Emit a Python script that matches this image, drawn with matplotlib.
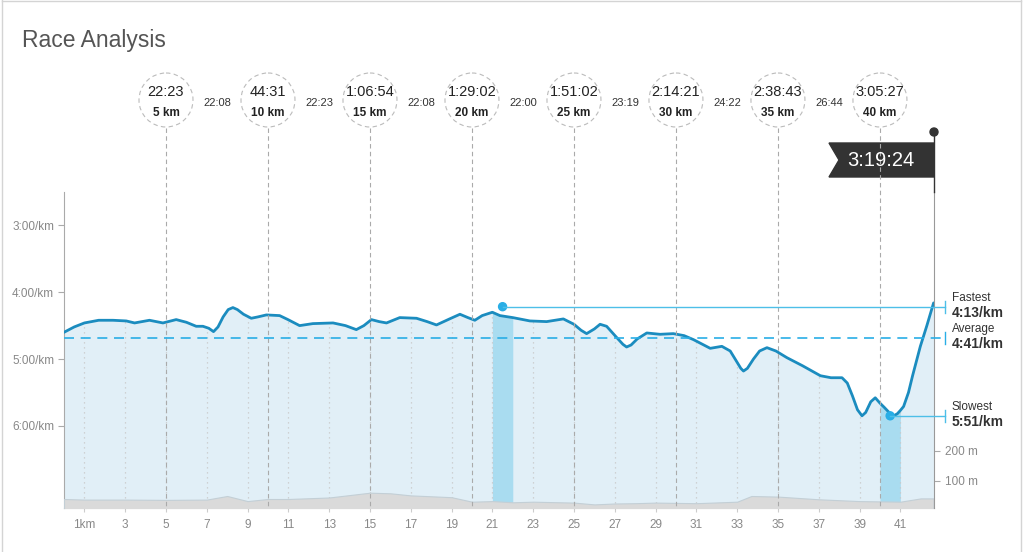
import numpy as np
import matplotlib
matplotlib.use('Agg')
import matplotlib.pyplot as plt
from matplotlib.patches import Circle, Polygon

plt.rcParams['font.family'] = ['Liberation Sans', 'DejaVu Sans']

W, H = 1024, 552

# pace profile (km, minutes per km)
km = [0.0, 0.5, 1.0, 1.7, 2.4, 3.05, 3.46, 4.19, 4.85, 5.5, 6.0, 6.48, 6.81, 7.1, 7.33, 7.55,
      7.8, 8.05, 8.28, 8.5, 8.8, 9.18, 9.5, 9.92, 10.57, 10.98, 11.55, 12.2, 13.19, 13.8, 14.33,
      14.7, 15.07, 15.45, 15.81, 16.46, 17.28, 17.8, 18.26, 18.9, 19.41, 19.8, 20.14, 20.5,
      21.0, 21.37, 22.0, 22.84, 23.66, 24.48, 25.0, 25.35, 25.62, 26.0, 26.28, 26.6, 27.1,
      27.4, 27.58, 27.8, 28.1, 28.57, 29.22, 29.87, 30.4, 30.86, 31.68, 32.25, 32.66, 33.0,
      33.18, 33.31, 33.5, 33.8, 34.1, 34.46, 34.9, 35.44, 36.2, 37.08, 37.6, 38.14, 38.4,
      38.65, 38.9, 39.12, 39.3, 39.55, 39.77, 40.0, 40.2, 40.45, 40.67, 40.85, 41.0, 41.16,
      41.4, 41.6, 41.98, 42.3, 42.63]
pace = [4.60, 4.52, 4.46, 4.42, 4.42, 4.43, 4.46, 4.42, 4.46, 4.41, 4.45, 4.51, 4.51, 4.54,
        4.59, 4.52, 4.37, 4.26, 4.23, 4.26, 4.33, 4.39, 4.37, 4.34, 4.35, 4.41, 4.50, 4.47,
        4.46, 4.50, 4.56, 4.50, 4.41, 4.44, 4.46, 4.38, 4.39, 4.44, 4.49, 4.40, 4.33, 4.38,
        4.42, 4.35, 4.30, 4.35, 4.38, 4.43, 4.44, 4.40, 4.48, 4.57, 4.62, 4.55, 4.48, 4.51,
        4.68, 4.78, 4.82, 4.79, 4.70, 4.61, 4.63, 4.62, 4.65, 4.71, 4.84, 4.81, 4.88, 5.05,
        5.14, 5.18, 5.14, 5.00, 4.88, 4.83, 4.88, 4.98, 5.10, 5.25, 5.28, 5.28, 5.36,
        5.55, 5.76, 5.85, 5.80, 5.64, 5.58, 5.66, 5.72, 5.80, 5.85, 5.82, 5.77, 5.71,
        5.50, 5.25, 4.81, 4.50, 4.16]

# elevation profile (km, metres)
elev_km = [0, 1, 3, 5, 7, 8, 9, 10, 11, 13, 15, 16, 17, 19, 20, 21, 22, 23, 25, 26, 27,
           28, 29, 31, 33, 33.7, 35, 37, 39, 41, 42, 42.63]
elev_m = [40, 38, 38, 37, 38, 50, 33, 40, 40, 45, 61, 59, 52, 46, 31, 33, 29, 31, 28, 22, 25,
          26, 28, 26, 31, 50, 48, 39, 33, 31, 42, 42]

split_km = [5, 10, 15, 20, 25, 30, 35, 40]
split_total = ['22:23', '44:31', '1:06:54', '1:29:02', '1:51:02', '2:14:21', '2:38:43', '3:05:27']
split_interval = ['22:08', '22:23', '22:08', '22:00', '23:19', '24:22', '26:44']
finish_time = '3:19:24'

fastest_km, fastest_pace, fastest_label = 21.5, 4 + 13 / 60, '4:13/km'
slowest_km, slowest_pace, slowest_label = 40.5, 5 + 51 / 60, '5:51/km'
avg_pace, avg_label = 4 + 41 / 60, '4:41/km'
fastest_span = (21, 22)
slowest_span = (40, 41)

pace_ticks = [3, 4, 5, 6]
pace_labels = ['3:00/km', '4:00/km', '5:00/km', '6:00/km']
km_ticks = list(range(1, 42, 2))
km_labels = ['1km'] + [str(k) for k in km_ticks[1:]]
elev_ticks = [100, 200]
elev_labels = ['100 m', '200 m']

km = np.array(km)
pace = np.array(pace)

fig = plt.figure(figsize=(W / 100, H / 100), dpi=100)
ax = fig.add_axes([64 / W, 44 / H, 870 / W, 316 / H])
ax.set_xlim(0, 42.65)
ax.set_ylim(7.23, 2.5)
bottom = 7.23

line_col = '#1b8cbf'
fill_col = '#e1eff7'
hi_col = '#a9dcf0'
acc_col = '#29aee6'

ax.fill_between(km, pace, bottom, color=fill_col, lw=0, zorder=1)
for lo, hi in [fastest_span, slowest_span]:
    m = (km >= lo) & (km <= hi)
    ax.fill_between(km[m], pace[m], bottom, color=hi_col, lw=0, zorder=2)
# dotted km guides under the curve
ax.vlines(km_ticks, bottom, np.interp(km_ticks, km, pace), colors='#c8c8c8',
          linestyles=(0, (1, 3)), lw=0.9, zorder=3)
ax.plot(km, pace, color=line_col, lw=2, zorder=5, solid_capstyle='round',
        solid_joinstyle='round')

ax.set_yticks(pace_ticks)
ax.set_yticklabels(pace_labels)
ax.set_xticks(km_ticks)
ax.set_xticklabels(km_labels)
ax.tick_params(axis='y', colors='#aaaaaa', labelcolor='#888888', labelsize=8.5, length=4, pad=3)
ax.tick_params(axis='x', colors='#cccccc', labelcolor='#888888', labelsize=8.5, length=3, pad=5)
for s in ['top', 'right']:
    ax.spines[s].set_visible(False)
for s in ['left', 'bottom']:
    ax.spines[s].set_color('#aaaaaa')

ax2 = ax.twinx()
ax2.set_ylim(10, 1063)
ax2.fill_between(elev_km, elev_m, 0, color='#dadada', edgecolor='#c3cfd6', lw=0.8, zorder=1)
ax2.set_yticks(elev_ticks)
ax2.set_yticklabels(elev_labels)
ax2.tick_params(axis='y', colors='#aaaaaa', labelcolor='#888888', labelsize=8.5, length=4, pad=4)
for s in ['top', 'left', 'bottom']:
    ax2.spines[s].set_visible(False)
ax2.spines['right'].set_color('#999999')


def to_px(x, y):
    dx, dy = ax.transData.transform((x, y))
    return dx, H - dy


# overlay in pixel coordinates for the decorations
ov = fig.add_axes([0, 0, 1, 1], zorder=5)
ov.set_xlim(0, W)
ov.set_ylim(H, 0)
ov.axis('off')
ov.patch.set_alpha(0)

# frame and title
ov.plot([2, 2], [0, H], color='#d4d4d4', lw=1)
ov.plot([2, 1021], [1, 1], color='#d4d4d4', lw=1)
ov.plot([1021, 1021], [0, H], color='#d4d4d4', lw=1)
ov.text(22, 40, 'Race Analysis', fontsize=16.5, color='#555555', va='center', ha='left')

# split circles
cy, r = 100, 27
y_axis_bottom = to_px(0, bottom)[1]
cxs = []
for k, t in zip(split_km, split_total):
    cx = to_px(k, 4)[0]
    cxs.append(cx)
    ov.add_patch(Circle((cx, cy), r, fill=False, ec='#bbbbbb', lw=0.8, ls=(0, (4, 3))))
    ov.plot([cx, cx], [cy + r + 1, y_axis_bottom], color='#aaaaaa', lw=0.8, ls=(0, (4, 3)))
    ov.text(cx, cy - 8, t, fontsize=10.5, color='#222222', ha='center', va='center')
    ov.text(cx, cy + 13, f'{k} km', fontsize=8.5, color='#222222', ha='center', va='center',
            fontweight='bold')
for i, t in enumerate(split_interval):
    ov.text((cxs[i] + cxs[i + 1]) / 2, cy + 3, t, fontsize=8, color='#333333',
            ha='center', va='center')

# finish flag
px_end = to_px(42.65, 2.5)
fx = px_end[0]
ov.plot([fx, fx], [132, px_end[1]], color='#333333', lw=1)
ov.add_patch(Circle((fx, 132), 4, color='#333333'))
ov.add_patch(Polygon([(fx - 105, 143), (fx, 143), (fx, 177), (fx - 105, 177), (fx - 95, 160)],
                     closed=True, color='#333333'))
ov.text(fx - 53, 160, finish_time, fontsize=14.5, color='white', ha='center', va='center')

# fastest / average / slowest markers
cap_x, lab_x = 945, 952
fx0, fy0 = to_px(fastest_km, fastest_pace)
ov.plot([fx0, cap_x], [fy0, fy0], color='#4dbfe8', lw=1)
ov.plot([cap_x, cap_x], [fy0 - 6, fy0 + 6], color='#4dbfe8', lw=1)
ov.add_patch(Circle((fx0, fy0), 4, color=acc_col))
ov.text(lab_x, fy0 - 9, 'Fastest', fontsize=8.5, color='#333333', va='center')
ov.text(lab_x, fy0 + 6, fastest_label, fontsize=10, color='#333333', va='center',
        fontweight='bold')

ax0, ay0 = to_px(0, avg_pace)
ov.plot([ax0, cap_x], [ay0, ay0], color=acc_col, lw=1.2, ls=(0, (6, 4)))
ov.plot([cap_x, cap_x], [ay0 - 6, ay0 + 6], color=acc_col, lw=1)
ov.text(lab_x, ay0 - 9, 'Average', fontsize=8.5, color='#333333', va='center')
ov.text(lab_x, ay0 + 6, avg_label, fontsize=10, color='#333333', va='center',
        fontweight='bold')

sx0, sy0 = to_px(slowest_km, slowest_pace)
ov.plot([sx0, cap_x], [sy0, sy0], color='#4dbfe8', lw=1)
ov.plot([cap_x, cap_x], [sy0 - 6, sy0 + 6], color='#4dbfe8', lw=1)
ov.add_patch(Circle((sx0, sy0), 4, color=acc_col))
ov.text(lab_x, sy0 - 9, 'Slowest', fontsize=8.5, color='#333333', va='center')
ov.text(lab_x, sy0 + 6, slowest_label, fontsize=10, color='#333333', va='center',
        fontweight='bold')

fig.savefig('out.png', dpi=100, facecolor='white')
